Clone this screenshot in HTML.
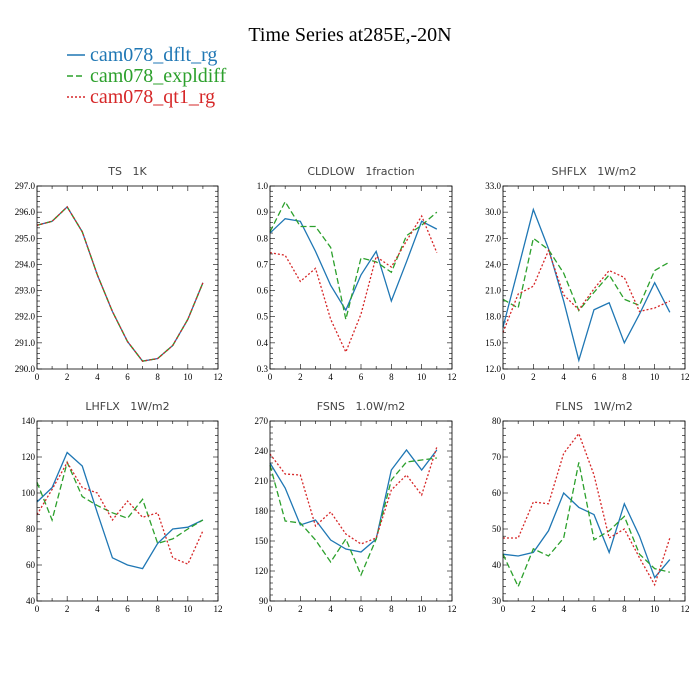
<!DOCTYPE html>
<html><head><meta charset="utf-8"><style>
body{margin:0;background:#fff;width:700px;height:700px;overflow:hidden}
svg{display:block}
.tl{font-family:"Liberation Serif",serif;font-size:9px;fill:#000}
.pt{font-family:"DejaVu Sans","Liberation Sans",sans-serif;font-size:11px;fill:#444;white-space:pre}
</style></head><body>
<svg id="c" width="700" height="700">
<text x="350" y="41" text-anchor="middle" font-family="Liberation Serif,serif" font-size="20">Time Series at285E,-20N</text>
<g>
<line x1="67" y1="55" x2="85" y2="55" stroke="#1f77b4" stroke-width="1.5"/>
<text x="90" y="61" font-family="Liberation Serif,serif" font-size="20" fill="#1f77b4">cam078_dflt_rg</text>
<line x1="67" y1="76" x2="85" y2="76" stroke="#2ca02c" stroke-width="1.5" stroke-dasharray="6,3"/>
<text x="90" y="82" font-family="Liberation Serif,serif" font-size="20" fill="#2ca02c">cam078_expldiff</text>
<line x1="67" y1="97" x2="85" y2="97" stroke="#d62728" stroke-width="1.5" stroke-dasharray="2,2"/>
<text x="90" y="103" font-family="Liberation Serif,serif" font-size="20" fill="#d62728">cam078_qt1_rg</text>
</g>
</svg>
<script>
const months=[0,1,2,3,4,5,6,7,8,9,10,11];
const xTicks=[0,2,4,6,8,10,12];
const tsDflt=[295.5,295.65,296.2,295.25,293.6,292.2,291.05,290.3,290.4,290.9,291.9,293.3];
const tsExpl=[295.5,295.65,296.2,295.25,293.6,292.2,291.05,290.3,290.4,290.9,291.9,293.3];
const tsQt1=[295.5,295.65,296.2,295.25,293.6,292.2,291.05,290.3,290.4,290.9,291.9,293.3];
const tsTicks=["290.0","291.0","292.0","293.0","294.0","295.0","296.0","297.0"];
const cldDflt=[0.82,0.875,0.865,0.75,0.62,0.525,0.66,0.75,0.56,0.71,0.865,0.835];
const cldExpl=[0.825,0.94,0.845,0.845,0.765,0.49,0.725,0.71,0.67,0.81,0.85,0.9];
const cldQt1=[0.745,0.735,0.635,0.685,0.49,0.365,0.51,0.73,0.69,0.79,0.885,0.745];
const cldTicks=["0.3","0.4","0.5","0.6","0.7","0.8","0.9","1.0"];
const shDflt=[16.8,23.5,30.3,25.8,19.8,13.0,18.8,19.6,15.0,18.3,21.9,18.5];
const shExpl=[20,19,27.0,25.7,23,18.7,20.8,22.8,20.0,19.3,23.3,24.3];
const shQt1=[16.2,20.6,21.5,25.6,20.5,18.8,21.2,23.3,22.5,18.6,19.0,19.8];
const shTicks=["12.0","15.0","18.0","21.0","24.0","27.0","30.0","33.0"];
const lhDflt=[95,103,122.5,115,89,64,60,58,72,80,81,85];
const lhExpl=[106,85,117,98,93,89,86,96.5,72,74.5,80,85];
const lhQt1=[88,102,117,103,100,85,95.5,86.5,89,64,60.5,79];
const lhTicks=["40","60","80","100","120","140"];
const fsDflt=[228,203,166,171,151,142,139,152,221,241,221,241];
const fsExpl=[226,170,168,151,129,152,116,152,211,229,231,233];
const fsQt1=[237,217,216,165,179,157,147,153,201,216,196,244];
const fsTicks=["90","120","150","180","210","240","270"];
const flDflt=[43,42.5,43.5,49.5,60,56,54,43.5,57,48,36.5,41.5];
const flExpl=[43,34,44.5,42.5,47.5,68.5,47,49.5,53.5,43,39,38];
const flQt1=[47.5,47.5,57.5,57,71,76.5,65,47.5,50,42,34.5,47.5];
const flTicks=["30","40","50","60","70","80"];

const svg=document.getElementById('c');
const NS='http://www.w3.org/2000/svg';
function mk(t,a,p){const e=document.createElementNS(NS,t);for(const k in a)e.setAttribute(k,a[k]);(p||svg).appendChild(e);return e;}
const panels=[
 {name:'ts',title:'TS   1K',x0:37,x1:218,y0:186,y1:369,ticks:tsTicks,s:[tsDflt,tsExpl,tsQt1]},
 {name:'cldlow',title:'CLDLOW   1fraction',x0:270,x1:452,y0:186,y1:369,ticks:cldTicks,s:[cldDflt,cldExpl,cldQt1]},
 {name:'shflx',title:'SHFLX   1W/m2',x0:503,x1:685,y0:186,y1:369,ticks:shTicks,s:[shDflt,shExpl,shQt1]},
 {name:'lhflx',title:'LHFLX   1W/m2',x0:37,x1:218,y0:421,y1:601,ticks:lhTicks,s:[lhDflt,lhExpl,lhQt1]},
 {name:'fsns',title:'FSNS   1.0W/m2',x0:270,x1:452,y0:421,y1:601,ticks:fsTicks,s:[fsDflt,fsExpl,fsQt1]},
 {name:'flns',title:'FLNS   1W/m2',x0:503,x1:685,y0:421,y1:601,ticks:flTicks,s:[flDflt,flExpl,flQt1]}
];
const styles=[{c:'#1f77b4',d:'',n:'dflt'},{c:'#2ca02c',d:'6,3',n:'expldiff'},{c:'#d62728',d:'2,2',n:'qt1'}];
panels.forEach(p=>{
 const g=mk('g',{});
 
 
 const ymin=parseFloat(p.ticks[0]),ymax=parseFloat(p.ticks[p.ticks.length-1]);
 const X=v=>p.x0+(v-0)/12*(p.x1-p.x0);
 const Y=v=>p.y1-(v-ymin)/(ymax-ymin)*(p.y1-p.y0);
 const t=mk('text',{x:(p.x0+p.x1)/2,y:p.y0-11,'text-anchor':'middle',class:'pt'},g);
 t.setAttributeNS('http://www.w3.org/XML/1998/namespace','xml:space','preserve');
 t.textContent=p.title;
 
 
 for(let i=0;i<=12;i++){const x=X(i),L=(i%2==0)?5:3;
  mk('line',{x1:x,y1:p.y1,x2:x,y2:p.y1-L,stroke:'#000','stroke-width':0.6},g);
  mk('line',{x1:x,y1:p.y0,x2:x,y2:p.y0+L,stroke:'#000','stroke-width':0.6},g);}
 xTicks.forEach(v=>{const e=mk('text',{x:X(v),y:p.y1+11,'text-anchor':'middle',class:'tl'},g);e.textContent=v;
  });
 const n=p.ticks.length-1;
 for(let i=0;i<=n*5;i++){const v=ymin+(ymax-ymin)*i/(n*5),y=Y(v),L=(i%5==0)?5:3;
  mk('line',{x1:p.x0,y1:y,x2:p.x0+L,y2:y,stroke:'#000','stroke-width':0.6},g);
  mk('line',{x1:p.x1,y1:y,x2:p.x1-L,y2:y,stroke:'#000','stroke-width':0.6},g);}
 p.ticks.forEach(s=>{const e=mk('text',{x:p.x0-2,y:Y(parseFloat(s))+3,'text-anchor':'end',class:'tl'},g);e.textContent=s;
  });
 p.s.forEach((arr,k)=>{const st=styles[k];
  const pl=mk('polyline',{points:arr.map((v,i)=>X(months[i])+','+Y(v)).join(' '),fill:'none',stroke:st.c,'stroke-width':1.3,'stroke-dasharray':st.d},g);
  
  });
 mk('rect',{x:p.x0,y:p.y0,width:p.x1-p.x0,height:p.y1-p.y0,fill:'none',stroke:'#000','stroke-width':0.8},g);
});
</script>
</body></html>
